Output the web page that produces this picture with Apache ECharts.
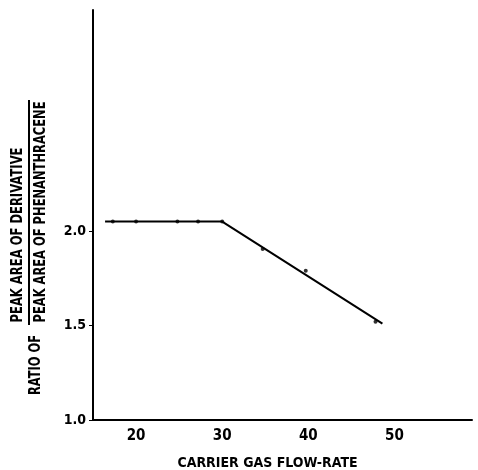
<!DOCTYPE html>
<html>
<head>
<meta charset="utf-8">
<script src="https://cdn.jsdelivr.net/npm/echarts@6/dist/echarts.min.js"></script>
<style>html,body{margin:0;padding:0;background:#fff}#c{width:478px;height:470px}</style>
</head>
<body>
<div id="c"></div>
<script>
// Data
var pointX = [17.3, 20, 24.8, 27.2, 30, 34.7, 39.7, 47.8];
var pointY = [2.05, 2.05, 2.05, 2.05, 2.05, 1.905, 1.79, 1.52];
var fitX = [16.4, 30, 48.6];
var fitY = [2.05, 2.05, 1.51];
var xTickLabels = [20, 30, 40, 50];
var yTickLabels = [1.0, 1.5, 2.0];

var FONT = '"DejaVu Sans", sans-serif';

// helper to squeeze rotated texts to the length seen in the reference
var mctx = document.createElement('canvas').getContext('2d');
function fitScale(text, font, target) {
  mctx.font = font;
  var w = mctx.measureText(text).width;
  return w > 0 ? target / w : 1;
}
var LF = 'bold 16px ' + FONT;
function vtext(text, x, y, len) {
  var s = fitScale(text, LF, len);
  return {type: 'text', x: x, y: y, rotation: Math.PI / 2, scaleX: s, scaleY: 1,
    style: {text: text, font: LF, fill: '#000', textAlign: 'center', textVerticalAlign: 'middle'}};
}

var chart = echarts.init(document.getElementById('c'));
chart.setOption({
  animation: false,
  backgroundColor: '#fff',
  grid: {left: 93, right: 6, top: 10, bottom: 50, outerBoundsMode: 'none', containLabel: false},
  xAxis: {
    type: 'value', min: 15, max: 59, interval: 5,
    axisLine: {lineStyle: {color: '#000', width: 2}},
    axisTick: {show: false},
    splitLine: {show: false},
    axisLabel: {
      color: '#000', fontFamily: FONT, fontWeight: 'bold condensed', fontSize: 15, margin: 9,
      customValues: xTickLabels,
      formatter: function (v) { return String(v); }
    },
    name: 'CARRIER GAS FLOW-RATE', nameLocation: 'middle', nameGap: 36,
    nameTextStyle: {color: '#000', fontFamily: FONT, fontWeight: 'bold condensed', fontSize: 14,
      padding: [0, 30, 0, 0]}
  },
  yAxis: {
    type: 'value', min: 1.0, max: 3.17, interval: 0.5,
    axisLine: {show: true, lineStyle: {color: '#000', width: 2}},
    axisTick: {show: true, inside: false, length: 4, lineStyle: {color: '#000', width: 1},
      customValues: yTickLabels},
    splitLine: {show: false},
    axisLabel: {
      color: '#000', fontFamily: FONT, fontWeight: 'bold condensed', fontSize: 14, margin: 7,
      customValues: yTickLabels,
      formatter: function (v) { return Number(v).toFixed(1); }
    }
  },
  series: [
    {
      type: 'line', data: fitX.map(function (x, i) { return [x, fitY[i]]; }),
      showSymbol: false, lineStyle: {color: '#000', width: 2}, silent: true
    },
    {
      type: 'scatter', data: pointX.map(function (x, i) { return [x, pointY[i]]; }),
      symbol: 'circle', symbolSize: 4, itemStyle: {color: '#000'}
    }
  ],
  graphic: [
    vtext('RATIO OF', 36, 365, 60),
    vtext('PEAK AREA OF DERIVATIVE', 18, 235, 175),
    {type: 'line', shape: {x1: 29, y1: 100, x2: 29, y2: 325}, style: {stroke: '#000', lineWidth: 2}},
    vtext('PEAK AREA OF PHENANTHRACENE', 41, 212, 221)
  ]
});
</script>
</body>
</html>
